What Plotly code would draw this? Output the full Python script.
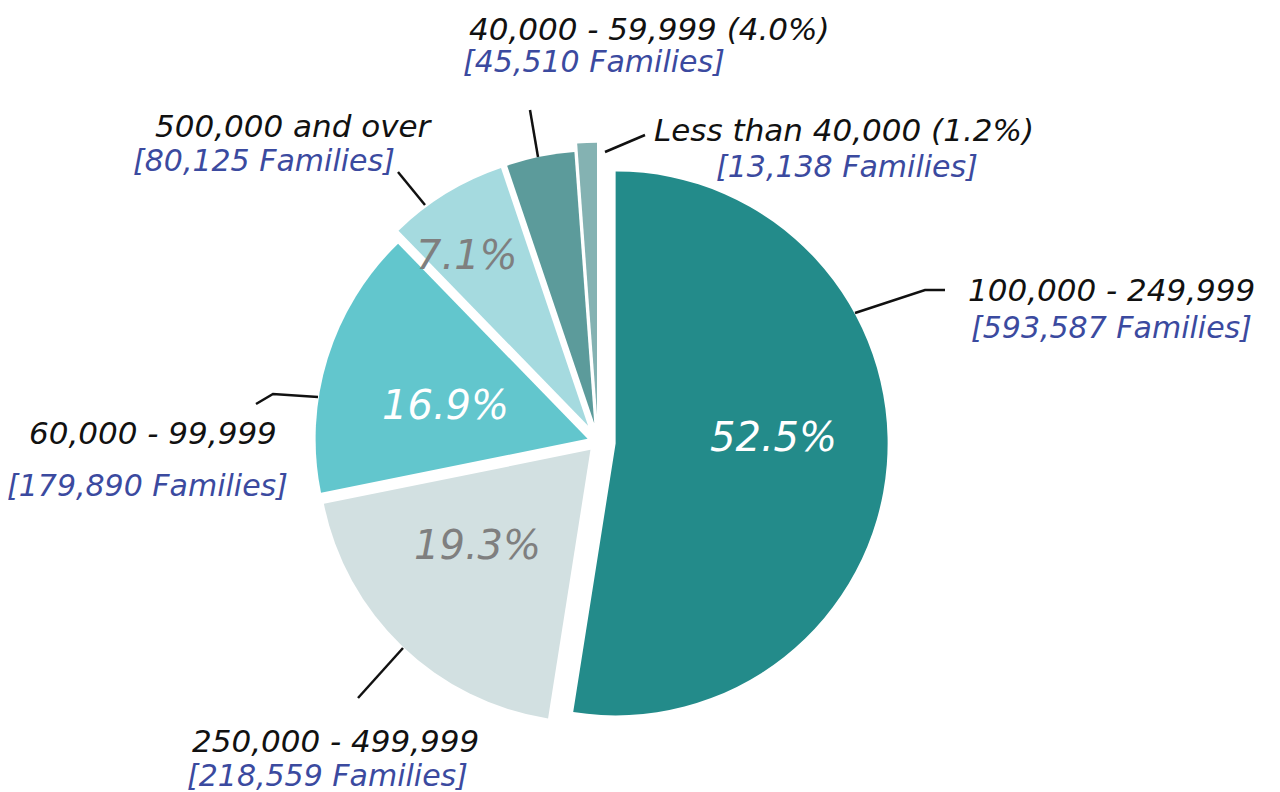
import plotly.graph_objects as go

# ---- data ----
categories = ["100,000 - 249,999", "250,000 - 499,999", "60,000 - 99,999",
              "500,000 and over", "40,000 - 59,999", "Less than 40,000"]
families = [593587, 218559, 179890, 80125, 45510, 13138]
pct_labels = ["52.5%", "19.3%", "16.9%", "7.1%", "4.0%", "1.2%"]
show_inside = [True, True, True, True, False, False]
show_pct_outside = [False, False, False, False, True, True]

# ---- styles ----
colors = ["#238B8A", "#D2E0E1", "#62C6CD", "#A5DADF", "#5C9B9B", "#84B2B2"]
inside_colors = ["#FFFFFF", "#7F7F7F", "#FFFFFF", "#7F7F7F", "#FFFFFF", "#FFFFFF"]
pulls = [0.065, 0.04, 0.04, 0.07, 0.07, 0.1]
FONT = "DejaVu Sans"
BLUE = "#3B4A9F"
W, H = 1280, 792
OFF = 8  # page body margin in the browser

def px(x):
    return (x - OFF) / W

def py(y):
    return 1 - (y - OFF) / H

# label layout (pixel centres of the two text lines) and leader-line paths
label_pos = [
    ((1111, 290), (1111, 327)),
    ((335, 741), (327, 775)),
    ((153, 433), (147, 485)),
    ((294, 126), (264, 161)),
    ((649, 29), (594, 62)),
    ((844, 130), (847, 166)),
]
inside_pos = [(773, 437), (477, 545), (445, 405), (467, 255), None, None]
leaders = [
    [(855, 313), (925, 290), (945, 290)],
    [(403, 648), (358, 698)],
    [(318, 397), (273, 394), (256, 404)],
    [(425, 205), (398, 172)],
    [(538, 157), (530, 110)],
    [(605, 152), (645, 135)],
]

fig = go.Figure(go.Pie(
    labels=categories,
    values=families,
    textinfo="none",
    marker=dict(colors=colors, line=dict(color="white", width=0)),
    pull=pulls,
    sort=False,
    direction="clockwise",
    rotation=0,
    hoverinfo="skip",
    showlegend=False,
    domain=dict(x=[px(298), px(898)], y=[py(741.2), py(142.8)]),
))

annotations = []
shapes = []
for i, cat in enumerate(categories):
    (x1, y1), (x2, y2) = label_pos[i]
    line1 = cat + (f" ({pct_labels[i]})" if show_pct_outside[i] else "")
    annotations.append(dict(
        x=px(x1), y=py(y1), xref="paper", yref="paper", xanchor="center", yanchor="middle",
        text=f"<i>{line1}</i>", showarrow=False,
        font=dict(family=FONT, size=31, color="#111111")))
    annotations.append(dict(
        x=px(x2), y=py(y2), xref="paper", yref="paper", xanchor="center", yanchor="middle",
        text=f"<i>[{families[i]:,} Families]</i>", showarrow=False,
        font=dict(family=FONT, size=30, color=BLUE)))
    if show_inside[i]:
        ix, iy = inside_pos[i]
        annotations.append(dict(
            x=px(ix), y=py(iy), xref="paper", yref="paper", xanchor="center", yanchor="middle",
            text=f"<i>{pct_labels[i]}</i>", showarrow=False,
            font=dict(family=FONT, size=40, color=inside_colors[i])))
    pts = leaders[i]
    path = "M " + " L ".join(f"{px(x)},{py(y)}" for x, y in pts)
    shapes.append(dict(type="path", xref="paper", yref="paper", path=path,
                       line=dict(color="#111111", width=2.5)))

fig.update_layout(
    width=W, height=H,
    margin=dict(l=0, r=0, t=0, b=0),
    paper_bgcolor="white", plot_bgcolor="white",
    annotations=annotations, shapes=shapes,
)

fig.write_html("out.html")
